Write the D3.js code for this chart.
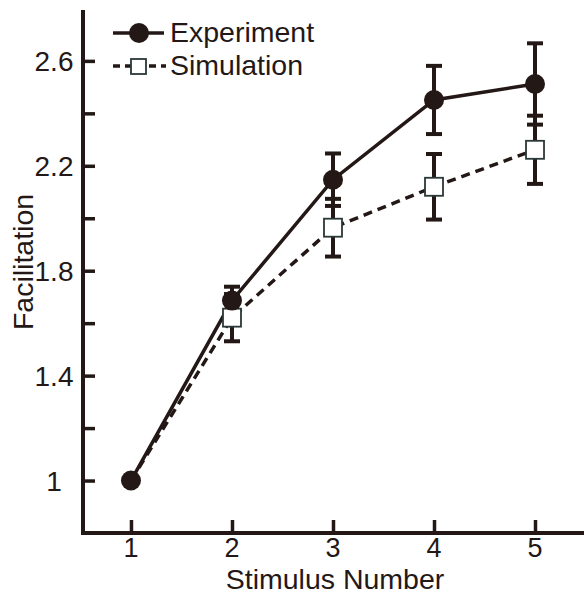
<!DOCTYPE html>
<html><head><meta charset="utf-8">
<script src="https://cdn.jsdelivr.net/npm/d3@7"></script>
<style>body{margin:0;background:#fff}svg{display:block}text{font-family:"Liberation Sans",Arial,sans-serif;fill:#231816}</style>
</head><body>
<script>
const stimulus = [1, 2, 3, 4, 5];
const experiment = [1.0, 1.686, 2.147, 2.451, 2.512];
const experimentErr = [0, 0.053, 0.1, 0.13, 0.155];
const simulation = [1.0, 1.621, 1.964, 2.12, 2.261];
const simulationErr = [0, 0.09, 0.11, 0.125, 0.13];
const yTickLabels = [1, 1.4, 1.8, 2.2, 2.6];
const yMinorTicks = [1.2, 1.6, 2.0, 2.4];
const xTickLabels = [1, 2, 3, 4, 5];

const W = 584, H = 601, ink = "#231816";
const svg = d3.select("body").append("svg").attr("width", W).attr("height", H);
const x = d3.scaleLinear().domain([0.525, 5.485]).range([83, 584]);
const y = d3.scaleLinear().domain([0.8, 2.794]).range([533, 10]);

// axes
const gy = svg.append("g").attr("transform", "translate(83,0)")
  .call(d3.axisRight(y).tickValues(yTickLabels.concat(yMinorTicks)).tickSize(12).tickFormat(""));
const gx = svg.append("g").attr("transform", "translate(0,533)")
  .call(d3.axisTop(x).tickValues(xTickLabels).tickSize(13).tickFormat(""));
[gx, gy].forEach(g => {
  g.select(".domain").remove();
  g.selectAll(".tick line").attr("stroke", ink).attr("stroke-width", 3.5);
});
svg.append("line").attr("x1", 83).attr("x2", 83).attr("y1", 10).attr("y2", 535).attr("stroke", ink).attr("stroke-width", 4);
svg.append("line").attr("x1", 81).attr("x2", 584).attr("y1", 533).attr("y2", 533).attr("stroke", ink).attr("stroke-width", 4);

svg.append("g").selectAll("text").data(yTickLabels).join("text")
  .attr("x", 54).attr("y", d => y(d)).attr("dy", "0.37em").attr("text-anchor", "middle")
  .attr("font-size", 28).text(d => d3.format("")(d));
svg.append("g").selectAll("text").data(xTickLabels).join("text")
  .attr("x", d => x(d)).attr("y", 557).attr("text-anchor", "middle")
  .attr("font-size", 27).text(d => d);
svg.append("text").attr("x", 335).attr("y", 589).attr("text-anchor", "middle").attr("font-size", 28.5).text("Stimulus Number");
svg.append("text").attr("transform", "translate(33,262) rotate(-90)").attr("text-anchor", "middle").attr("font-size", 28.5).text("Facilitation");

const line = d3.line().x(d => x(d[0])).y(d => y(d[1]));
const expPts = stimulus.map((s, i) => [s, experiment[i], experimentErr[i]]);
const simPts = stimulus.map((s, i) => [s, simulation[i], simulationErr[i]]);

function errBars(pts) {
  const g = svg.append("g").attr("stroke", ink);
  pts.filter(d => d[2] > 0).forEach(d => {
    const cx = x(d[0]), t = y(d[1] + d[2]), b = y(d[1] - d[2]);
    g.append("line").attr("x1", cx).attr("x2", cx).attr("y1", t).attr("y2", b).attr("stroke-width", 4);
    [t, b].forEach(v => g.append("line").attr("x1", cx - 8).attr("x2", cx + 8).attr("y1", v).attr("y2", v).attr("stroke-width", 4));
  });
}
errBars(simPts);
errBars(expPts);

svg.append("path").datum(simPts).attr("d", line).attr("fill", "none").attr("stroke", ink)
  .attr("stroke-width", 3.5).attr("stroke-dasharray", "9,6");
svg.append("path").datum(expPts).attr("d", line).attr("fill", "none").attr("stroke", ink).attr("stroke-width", 3.5);

svg.append("g").selectAll("rect").data(simPts.slice(1)).join("rect")
  .attr("x", d => x(d[0]) - 9).attr("y", d => y(d[1]) - 9).attr("width", 18).attr("height", 18)
  .attr("fill", "#fff").attr("stroke", "#2b3838").attr("stroke-width", 1.8);
svg.append("g").selectAll("circle").data(expPts).join("circle")
  .attr("cx", d => x(d[0])).attr("cy", d => y(d[1])).attr("r", 10).attr("fill", ink);

// legend
const lg = svg.append("g");
lg.append("line").attr("x1", 113).attr("x2", 164).attr("y1", 33).attr("y2", 33).attr("stroke", ink).attr("stroke-width", 3.5);
lg.append("circle").attr("cx", 139).attr("cy", 33).attr("r", 10).attr("fill", ink);
lg.append("text").attr("x", 170).attr("y", 42).attr("font-size", 28.5).text("Experiment");
lg.append("line").attr("x1", 113).attr("x2", 166).attr("y1", 66).attr("y2", 66).attr("stroke", ink).attr("stroke-width", 3.5).attr("stroke-dasharray", "7,5");
lg.append("rect").attr("x", 131).attr("y", 59).attr("width", 15).attr("height", 15).attr("fill", "#fff").attr("stroke", "#2b3838").attr("stroke-width", 1.8);
lg.append("text").attr("x", 170).attr("y", 75).attr("font-size", 28.5).text("Simulation");
</script>
</body></html>
